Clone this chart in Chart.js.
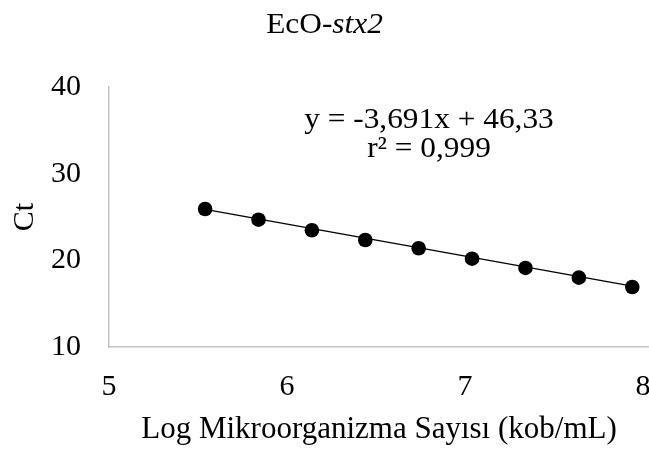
<!DOCTYPE html>
<html>
<head>
<meta charset="utf-8">
<script src="https://cdn.jsdelivr.net/npm/chart.js@4"></script>
<style>
  html, body { margin: 0; padding: 0; background: #ffffff; }
  #wrap { width: 649px; height: 451px; overflow: hidden; position: relative; }
  canvas { display: block; }
</style>
</head>
<body>
<div id="wrap"><canvas id="c" width="660" height="451"></canvas></div>
<script>
// Standard curve: log microorganism count vs Ct
const logCounts = [5.54, 5.84, 6.14, 6.44, 6.74, 7.04, 7.34, 7.64, 7.94];
const ctValues  = [25.92, 24.69, 23.47, 22.35, 21.39, 20.19, 19.12, 18.00, 16.92];

// Linear fit stated on the chart
const slope = -3.691;
const intercept = 46.33;
const equationText = 'y = -3,691x + 46,33';
const r2Text = 'r² = 0,999';

const titleMain = 'EcO-';
const titleItalic = 'stx2';
const xTitle = 'Log Mikroorganizma Sayısı (kob/mL)';
const yTitle = 'Ct';
const xTicks = [5, 6, 7, 8];
const yTicks = [10, 20, 30, 40];

const FONT = '"Liberation Serif", "Times New Roman", serif';
const FS = 30;
const WIDEN = 1.045; // slightly wide lettering for free-standing text

const points = logCounts.map((x, i) => ({ x, y: ctValues[i] }));
const xFirst = logCounts[0], xLast = logCounts[logCounts.length - 1];
const fitLine = [
  { x: xFirst, y: intercept + slope * xFirst },
  { x: xLast,  y: intercept + slope * xLast }
];

const textPlugin = {
  id: 'chartTexts',
  afterDraw(chart) {
    const ctx = chart.ctx;
    ctx.save();
    ctx.fillStyle = '#000';
    ctx.textBaseline = 'alphabetic';

    // title with italic gene name, centred on the visible canvas
    ctx.save();
    ctx.translate(324.5, 33);
    ctx.scale(WIDEN, 1);
    ctx.font = FS + 'px ' + FONT;
    const w1 = ctx.measureText(titleMain).width;
    ctx.font = 'italic ' + FS + 'px ' + FONT;
    const w2 = ctx.measureText(titleItalic).width;
    const tx = -(w1 + w2) / 2;
    ctx.textAlign = 'left';
    ctx.font = FS + 'px ' + FONT;
    ctx.fillText(titleMain, tx, 0);
    ctx.font = 'italic ' + FS + 'px ' + FONT;
    ctx.fillText(titleItalic, tx + w1, 0);
    ctx.restore();

    // regression equation
    ctx.font = FS + 'px ' + FONT;
    ctx.textAlign = 'center';
    ctx.save();
    ctx.translate(429, 128);
    ctx.scale(WIDEN, 1);
    ctx.fillText(equationText, 0, 0);
    ctx.restore();
    ctx.save();
    ctx.translate(429, 157);
    ctx.scale(WIDEN, 1);
    ctx.fillText(r2Text, 0, 0);
    ctx.restore();

    ctx.restore();
  }
};

new Chart(document.getElementById('c'), {
  type: 'scatter',
  data: {
    datasets: [
      {
        data: fitLine,
        showLine: true,
        borderColor: '#000',
        borderWidth: 1.3,
        pointRadius: 0,
        pointHoverRadius: 0
      },
      {
        data: points,
        showLine: false,
        pointRadius: 7.3,
        pointHoverRadius: 7.3,
        backgroundColor: '#000',
        borderColor: '#000',
        borderWidth: 0
      }
    ]
  },
  options: {
    responsive: false,
    devicePixelRatio: 1,
    animation: false,
    events: [],
    layout: { padding: { top: 87, right: 11, left: 0, bottom: 0 } },
    plugins: {
      legend: { display: false },
      tooltip: { enabled: false },
      title: { display: false }
    },
    scales: {
      x: {
        type: 'linear',
        min: 5,
        max: 8.034,
        afterFit(scale) {
          scale.height = 104;
          scale.paddingLeft = 0;
          scale.paddingRight = 0;
        },
        afterBuildTicks(scale) { scale.ticks = xTicks.map(v => ({ value: v })); },
        grid: { display: true, drawOnChartArea: false, drawTicks: false, color: 'rgba(0,0,0,0)' },
        border: { display: true, color: '#c4c4c4', width: 1.5 },
        ticks: { color: '#000', font: { family: FONT, size: FS }, padding: 22, maxRotation: 0 },
        title: { display: true, text: xTitle, color: '#000', font: { family: FONT, size: 31 }, padding: { top: 0, bottom: 3 } }
      },
      y: {
        type: 'linear',
        min: 10,
        max: 40,
        afterFit(scale) { scale.width = 109; },
        afterBuildTicks(scale) { scale.ticks = yTicks.map(v => ({ value: v })); },
        grid: { display: true, drawOnChartArea: false, drawTicks: false, color: 'rgba(0,0,0,0)' },
        border: { display: true, color: '#c4c4c4', width: 1.5 },
        ticks: { color: '#000', font: { family: FONT, size: FS }, padding: 28 },
        title: { display: true, text: yTitle, color: '#000', font: { family: FONT, size: FS }, padding: { top: 7, bottom: 0 } }
      }
    }
  },
  plugins: [textPlugin]
});
</script>
</body>
</html>
